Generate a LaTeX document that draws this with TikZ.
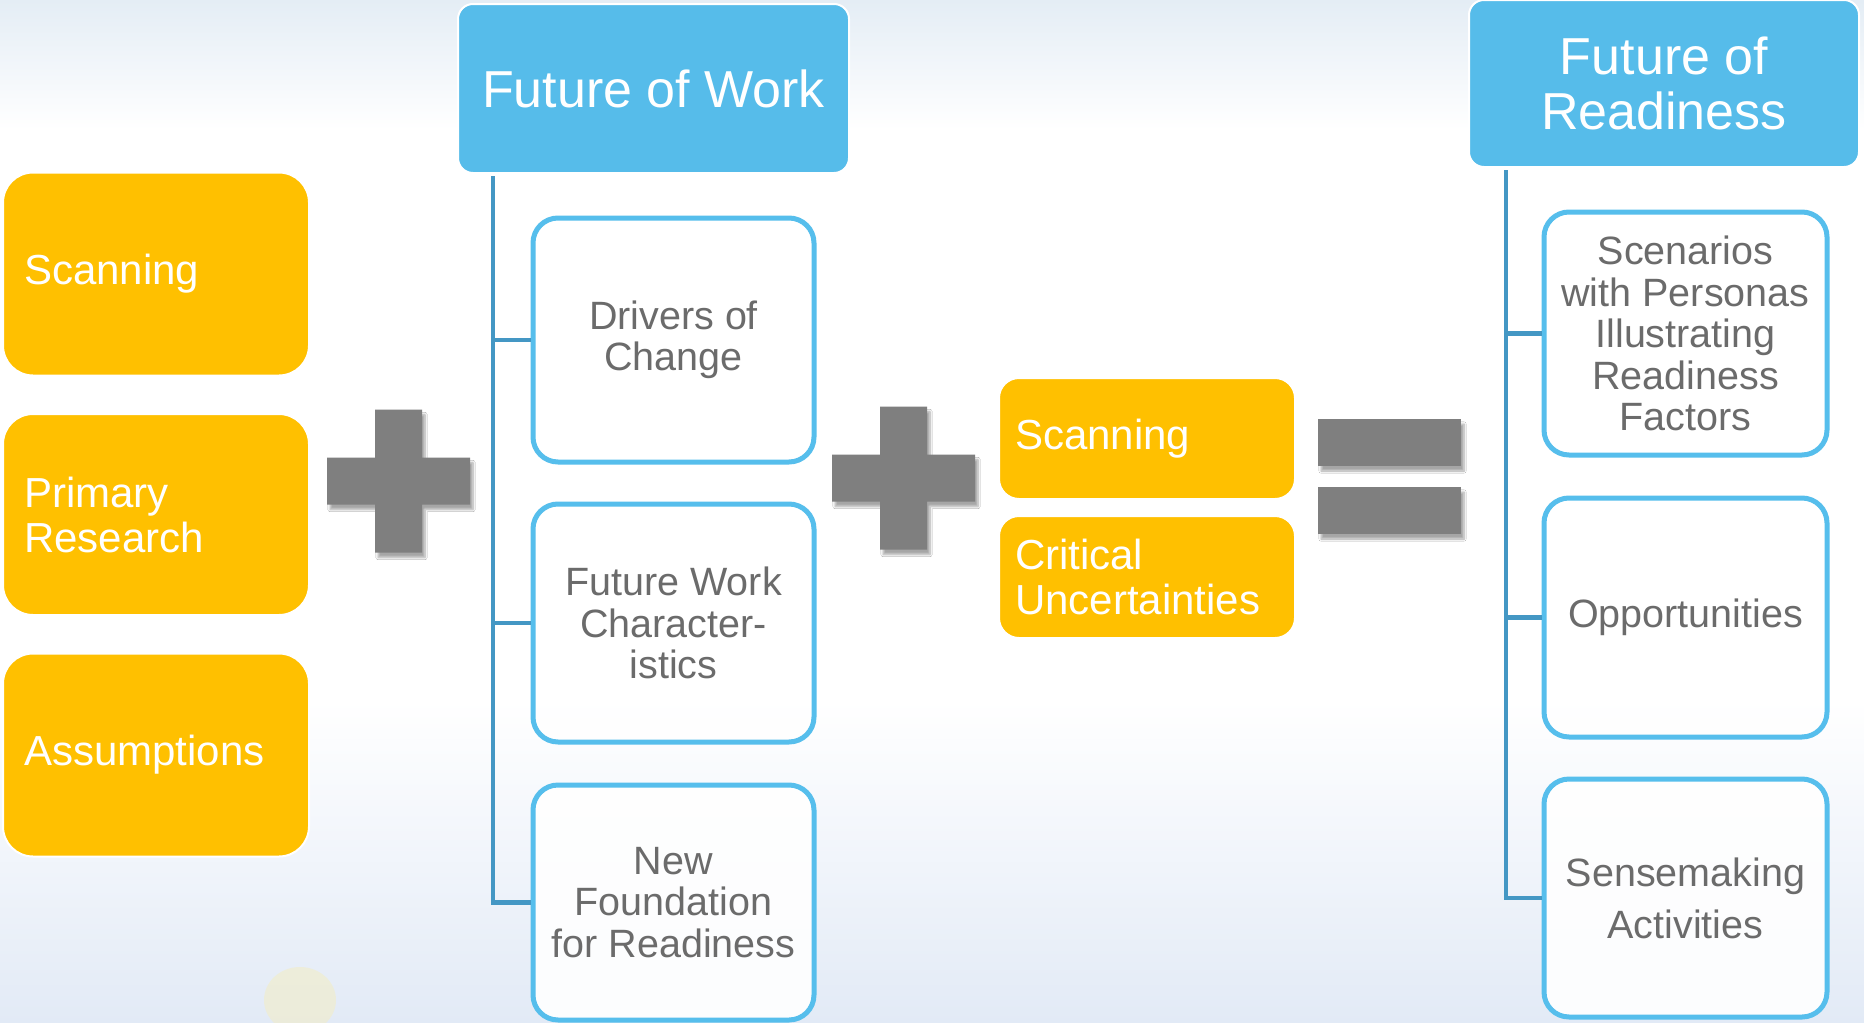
\documentclass[tikz,border=0pt]{standalone}
\usepackage{fontspec}
\setmainfont{Liberation Sans}
\usetikzlibrary{shadows.blur}
\definecolor{orng}{HTML}{FFC000}
\definecolor{sky}{HTML}{56BCEA}
\definecolor{skyline}{HTML}{56BEEC}
\definecolor{conncol}{HTML}{4497C4}
\definecolor{txtgray}{HTML}{6B6B6B}
\definecolor{symgray}{HTML}{7F7F7F}
\definecolor{bgtop}{HTML}{E4EDF5}
\definecolor{bgbot}{HTML}{E2EAF6}
\definecolor{blob}{HTML}{F2EDC8}
\tikzset{
  orbox/.style={fill=orng, draw=white, line width=2pt, rounded corners=30pt, text=white,
    inner xsep=21pt, inner ysep=0pt, align=left, font=\fontsize{42}{45}\selectfont},
  midbox/.style={orbox, rounded corners=20pt, inner xsep=16pt},
  headbox/.style={fill=sky, draw=white, line width=2pt, rounded corners=15pt, text=white,
    align=center, inner sep=0pt, font=\fontsize{52}{55}\selectfont},
  whbox/.style={fill=white, fill opacity=0.9, text opacity=1, draw=skyline, line width=5pt,
    rounded corners=25pt, text=txtgray, align=center, inner sep=0pt,
    font=\fontsize{39.5}{41.5}\selectfont},
  conn/.style={draw=conncol, line width=4.5pt},
  symb/.style={fill=symgray, blur shadow={shadow xshift=3pt, shadow yshift=-5pt, shadow blur steps=8, shadow opacity=35}}
}
\begin{document}
\begin{tikzpicture}[x=1pt,y=-1pt]
\useasboundingbox (0,0) rectangle (1864,1023);
% background
\fill[white] (0,0) rectangle (1864,1023);
\shade[top color=bgtop, bottom color=white] (0,0) rectangle (1864,130);
\shade[top color=white, bottom color=bgbot] (0,700) rectangle (1864,1023);
\fill[blob, opacity=0.6] (300,1000) ellipse (36 and 33);

% left orange boxes
\node[orbox, text width=264pt, minimum height=203pt] (scan1) at (156,274) {Scanning};
\node[orbox, text width=264pt, minimum height=201pt] (prim) at (156,514.5) {Primary\\Research};
\node[orbox, text width=264pt, minimum height=203pt] (assum) at (156,755) {Assumptions};

% Future of Work
\node[headbox, minimum width=391pt, minimum height=169pt] (fow) at (653.5,88.5) {Future of Work};
\node[whbox, minimum width=281pt, minimum height=244pt] (doc) at (673.5,340) {Drivers of\\Change};
\node[whbox, minimum width=281pt, minimum height=238pt] (fwc) at (673.5,623) {Future Work\\Character-\\istics};
\node[whbox, minimum width=281pt, minimum height=235pt] (newf) at (673.5,902.5) {New\\Foundation\\for Readiness};
\coordinate (fowtrunk) at (493,176);
\draw[conn] (fowtrunk) |- (newf.west);
\draw[conn] (fowtrunk) |- (doc.west);
\draw[conn] (fowtrunk) |- (fwc.west);

% middle orange boxes
\node[midbox, text width=264pt, minimum height=121pt] (scan2) at (1147,438.5) {Scanning};
\node[midbox, text width=264pt, minimum height=122pt] (crit) at (1147,577) {Critical\\Uncertainties};

% Future of Readiness
\node[headbox, minimum width=390pt, minimum height=167pt] (for) at (1664,83.5) {Future of\\Readiness};
\node[whbox, minimum width=283pt, minimum height=243pt] (scen) at (1685.5,333.5) {Scenarios\\with Personas\\Illustrating\\Readiness\\Factors};
\node[whbox, minimum width=283pt, minimum height=239pt] (opp) at (1685.5,617.5) {Opportunities};
\node[whbox, minimum width=283pt, minimum height=238pt, font=\fontsize{39.5}{52}\selectfont] (sense) at (1685.5,898) {Sensemaking\\Activities};
\coordinate (fortrunk) at (1506,170);
\draw[conn] (fortrunk) |- (sense.west);
\draw[conn] (fortrunk) |- (scen.west);
\draw[conn] (fortrunk) |- (opp.west);

% plus signs
\foreach \cx/\cy in {398.5/481, 903.5/478}{
  \fill[symb] (\cx-23.5,\cy-71.5) -- (\cx+23.5,\cy-71.5) -- (\cx+23.5,\cy-23.5) -- (\cx+71.5,\cy-23.5)
    -- (\cx+71.5,\cy+23.5) -- (\cx+23.5,\cy+23.5) -- (\cx+23.5,\cy+71.5) -- (\cx-23.5,\cy+71.5)
    -- (\cx-23.5,\cy+23.5) -- (\cx-71.5,\cy+23.5) -- (\cx-71.5,\cy-23.5) -- (\cx-23.5,\cy-23.5) -- cycle;
}
% equals sign
\fill[symb] (1318,419) rectangle (1461,466);
\fill[symb] (1318,487) rectangle (1461,534);
\end{tikzpicture}
\end{document}
